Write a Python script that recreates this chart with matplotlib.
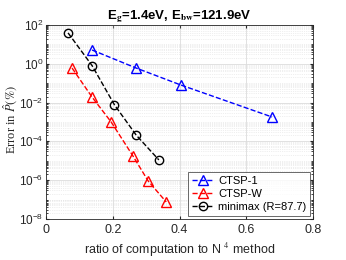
import matplotlib
matplotlib.use("Agg")
import matplotlib.pyplot as plt
from matplotlib.ticker import LogLocator, NullFormatter, FixedLocator

plt.rcParams['font.family'] = ['Liberation Sans', 'DejaVu Sans']
plt.rcParams['mathtext.fontset'] = 'stix'

ctsp1_x = [0.138, 0.27, 0.404, 0.677]
ctsp1_y = [5.1, 0.6, 0.08, 0.0018]
ctspw_x = [0.078, 0.138, 0.195, 0.26, 0.306, 0.36]
ctspw_y = [0.6, 0.019, 1.0e-3, 1.8e-5, 9e-7, 7.5e-8]
minimax_x = [0.066, 0.138, 0.205, 0.27, 0.338]
minimax_y = [39, 0.8, 0.0076, 2.1e-4, 1.1e-5]

labels = ['CTSP-1', 'CTSP-W', 'minimax (R=87.7)']
xticks = [0, 0.2, 0.4, 0.6, 0.8]

fig = plt.figure(figsize=(3.46, 2.60), dpi=100)
ax = fig.add_axes([0.133, 0.158, 0.772, 0.746])

ax.plot(ctsp1_x, ctsp1_y, '--^', color='#0000ff', mfc='none', ms=7, lw=1.0, mew=1.0, label=labels[0])
ax.plot(ctspw_x, ctspw_y, '--^', color='#ff0000', mfc='none', ms=7, lw=1.0, mew=1.0, label=labels[1])
ax.plot(minimax_x, minimax_y, '--o', color='#000000', mfc='none', ms=6, lw=1.0, mew=1.0, label=labels[2])

ax.set_yscale('log')
ax.set_xlim(0, 0.8)
ax.set_ylim(1e-8, 1e2)
ax.set_xticks(xticks)
ax.set_xticklabels(['0', '0.2', '0.4', '0.6', '0.8'])
ax.yaxis.set_major_locator(FixedLocator([1e-8, 1e-6, 1e-4, 1e-2, 1e0, 1e2]))
ax.yaxis.set_minor_locator(LogLocator(base=10, subs=[1, 2, 3, 4, 5, 6, 7, 8, 9], numticks=100))
ax.yaxis.set_minor_formatter(NullFormatter())

ax.grid(True, which='major', color='#dcdcdc', lw=0.6)
ax.grid(True, which='minor', axis='y', color='#e0e0e0', lw=0.5, ls=':')
ax.set_axisbelow(True)

ax.tick_params(which='both', direction='in', top=True, right=True, labelsize=9, colors='#262626', length=2.5)
ax.tick_params(axis='y', which='major', pad=2, labelsize=8.5)
ax.tick_params(which='minor', length=1.5)
for s in ax.spines.values():
    s.set_color('#262626')
    s.set_linewidth(0.6)

ax.set_title(r'E$_\mathbf{g}$=1.4eV, E$_\mathbf{bw}$=121.9eV', fontsize=9.5, fontweight='bold', pad=4)
ax.set_xlabel(r'ratio of computation to N $^4$ method', fontsize=9, color='#262626')
ax.set_ylabel(r'Error in $\hat{P}(\%)$', fontsize=9, family='Liberation Serif', color='#262626')
ax.yaxis.set_label_coords(-0.098, 0.515)

leg = ax.legend(loc='lower right', fontsize=8, frameon=True, fancybox=False, edgecolor='#262626',
                borderpad=0.3, labelspacing=0.3, handlelength=2.0, handletextpad=0.4, borderaxespad=0.3)
leg.get_frame().set_linewidth(0.6)

fig.savefig('out.png', dpi=100)
